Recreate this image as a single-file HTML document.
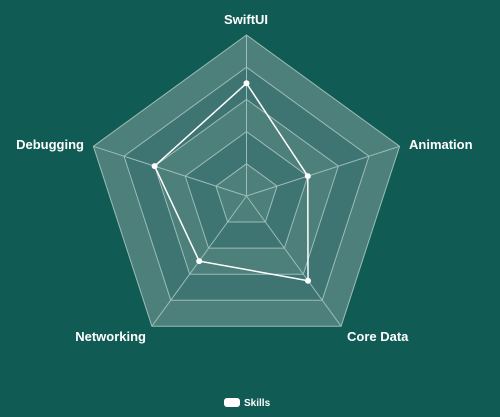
<!DOCTYPE html>
<html><head><style>
html,body{margin:0;padding:0;background:#115b55;}
svg{display:block;font-family:"Liberation Sans",sans-serif;}
</style></head><body>
<svg width="500" height="417" viewBox="0 0 500 417">
<rect width="500" height="417" fill="#115b55"/>
<g transform="translate(246.5,196)" stroke="#9cbcb7" stroke-width="1">
<polygon points="0,-161 153.1,-49.7 94.6,130.2 -94.6,130.2 -153.1,-49.7" fill="#4d807a"/>
<polygon points="0,-128.8 122.5,-39.8 75.7,104.2 -75.7,104.2 -122.5,-39.8" fill="#3e7472"/>
<polygon points="0,-96.6 91.9,-29.9 56.8,78.2 -56.8,78.2 -91.9,-29.9" fill="#4d807a"/>
<polygon points="0,-64.4 61.3,-19.9 37.9,52.1 -37.9,52.1 -61.3,-19.9" fill="#3e7472"/>
<polygon points="0,-32.2 30.6,-9.95 18.9,26 -18.9,26 -30.6,-9.95" fill="#4d807a"/>
<line x1="0" y1="0" x2="0" y2="-161"/>
<line x1="0" y1="0" x2="153.1" y2="-49.7"/>
<line x1="0" y1="0" x2="94.6" y2="130.2"/>
<line x1="0" y1="0" x2="-94.6" y2="130.2"/>
<line x1="0" y1="0" x2="-153.1" y2="-49.7"/>
<polygon points="0,-112.7 61.3,-19.9 61.5,84.7 -47.3,65.1 -91.9,-29.9" fill="none" stroke="#fff" stroke-width="1.5"/>
<g fill="#fff" stroke="none">
<circle cx="0" cy="-112.7" r="3"/><circle cx="61.3" cy="-19.9" r="3"/><circle cx="61.5" cy="84.7" r="3"/><circle cx="-47.3" cy="65.1" r="3"/><circle cx="-91.9" cy="-29.9" r="3"/>
</g>
</g>
<g fill="#fff" font-size="13" font-weight="bold">
<text x="246" y="24" text-anchor="middle">SwiftUI</text>
<text x="409" y="149">Animation</text>
<text x="347" y="341">Core Data</text>
<text x="146" y="341" text-anchor="end">Networking</text>
<text x="84" y="149" text-anchor="end">Debugging</text>
</g>
<rect x="224" y="398" width="16" height="9" rx="3" fill="#fff"/>
<text x="244" y="406" fill="#fff" font-size="10" font-weight="600">Skills</text>
</svg>
</body></html>
